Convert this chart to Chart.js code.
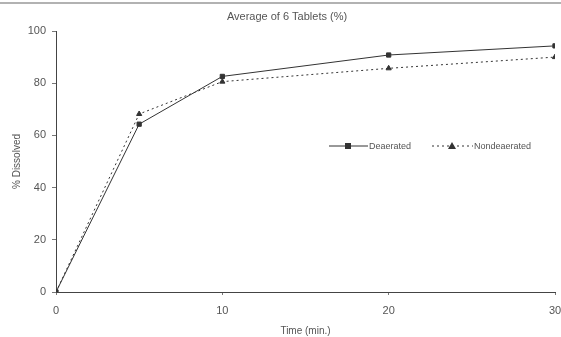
<!DOCTYPE html>
<html>
<head>
<meta charset="utf-8">
<script src="https://cdn.jsdelivr.net/npm/chart.js@4"></script>
<style>
  html, body { margin: 0; padding: 0; background: #fff; }
  #wrap { width: 561px; height: 337px; position: relative; }
</style>
</head>
<body>
<div id="wrap"><canvas id="chart" width="561" height="337"></canvas></div>
<script>
// 数据
const times = [0, 5, 10, 20, 30];
const deaerated = [0, 64.3, 82.6, 90.8, 94.3];
const nondeaerated = [0, 68.2, 80.6, 85.7, 90.0];
const yTicks = [0, 20, 40, 60, 80, 100];

const textColor = '#555';
const lineColor = '#333';

// 标题、顶部线和图例
const decor = {
    id: 'decor',
    afterDraw(chart) {
        const ctx = chart.ctx;
        ctx.save();
        // 顶部扫描线
        ctx.strokeStyle = '#999';
        ctx.lineWidth = 1.5;
        ctx.beginPath();
        ctx.moveTo(0, 3);
        ctx.lineTo(561, 3);
        ctx.stroke();

        ctx.fillStyle = textColor;
        ctx.font = '11px "Liberation Sans", Arial, sans-serif';
        ctx.textAlign = 'center';
        ctx.textBaseline = 'middle';
        ctx.fillText('Average of 6 Tablets (%)', 287, 17);

        // 图例
        const y = 146;
        ctx.font = '9px "Liberation Sans", Arial, sans-serif';
        ctx.textAlign = 'left';
        ctx.strokeStyle = lineColor;
        ctx.lineWidth = 1;
        ctx.beginPath();
        ctx.moveTo(329, y);
        ctx.lineTo(368, y);
        ctx.stroke();
        ctx.fillStyle = lineColor;
        ctx.fillRect(345, y - 3, 6, 6);
        ctx.fillStyle = textColor;
        ctx.fillText('Deaerated', 369, y + 1);

        ctx.setLineDash([2, 3]);
        ctx.beginPath();
        ctx.moveTo(432, y);
        ctx.lineTo(473, y);
        ctx.stroke();
        ctx.setLineDash([]);
        ctx.fillStyle = lineColor;
        ctx.beginPath();
        ctx.moveTo(452, y - 4);
        ctx.lineTo(456, y + 3);
        ctx.lineTo(448, y + 3);
        ctx.closePath();
        ctx.fill();
        ctx.fillStyle = textColor;
        ctx.fillText('Nondeaerated', 474, y + 1);
        ctx.restore();
    }
};

new Chart(document.getElementById('chart'), {
    type: 'line',
    data: {
        datasets: [{
            label: 'Deaerated',
            data: times.map((t, i) => ({ x: t, y: deaerated[i] })),
            borderColor: lineColor,
            backgroundColor: lineColor,
            borderWidth: 1,
            pointStyle: 'rect',
            pointRadius: 3,
            tension: 0
        }, {
            label: 'Nondeaerated',
            data: times.map((t, i) => ({ x: t, y: nondeaerated[i] })),
            borderColor: lineColor,
            backgroundColor: lineColor,
            borderWidth: 1,
            borderDash: [2, 3],
            pointStyle: 'triangle',
            pointRadius: 3,
            tension: 0
        }]
    },
    options: {
        responsive: false,
        animation: false,
        layout: { padding: { top: 31, right: 6, left: 0, bottom: 0 } },
        plugins: {
            legend: { display: false },
            title: { display: false },
            tooltip: { enabled: false }
        },
        scales: {
            x: {
                type: 'linear',
                min: 0,
                max: 30,
                ticks: {
                    stepSize: 10,
                    color: textColor,
                    font: { family: '"Liberation Sans", Arial, sans-serif', size: 11 },
                    padding: 9
                },
                grid: { drawOnChartArea: false, color: '#777', tickLength: 3 },
                border: { color: '#444', width: 1 },
                title: {
                    display: true,
                    text: 'Time (min.)',
                    color: textColor,
                    font: { family: '"Liberation Sans", Arial, sans-serif', size: 10 },
                    padding: { top: 2, bottom: 0 }
                },
                afterFit(scale) {
                    scale.height = 45;
                    scale.paddingRight = 0;
                    scale.paddingLeft = 0;
                }
            },
            y: {
                min: 0,
                max: 100,
                afterBuildTicks(scale) { scale.ticks = yTicks.map(v => ({ value: v })); },
                ticks: {
                    color: textColor,
                    font: { family: '"Liberation Sans", Arial, sans-serif', size: 11 },
                    padding: 6
                },
                grid: { drawOnChartArea: false, color: '#777', tickLength: 4 },
                border: { color: '#444', width: 1 },
                title: {
                    display: true,
                    text: '% Dissolved',
                    color: textColor,
                    font: { family: '"Liberation Sans", Arial, sans-serif', size: 10 },
                    padding: { top: 11, bottom: 0 }
                },
                afterFit(scale) { scale.width = 56; }
            }
        }
    },
    plugins: [decor]
});
</script>
</body>
</html>
